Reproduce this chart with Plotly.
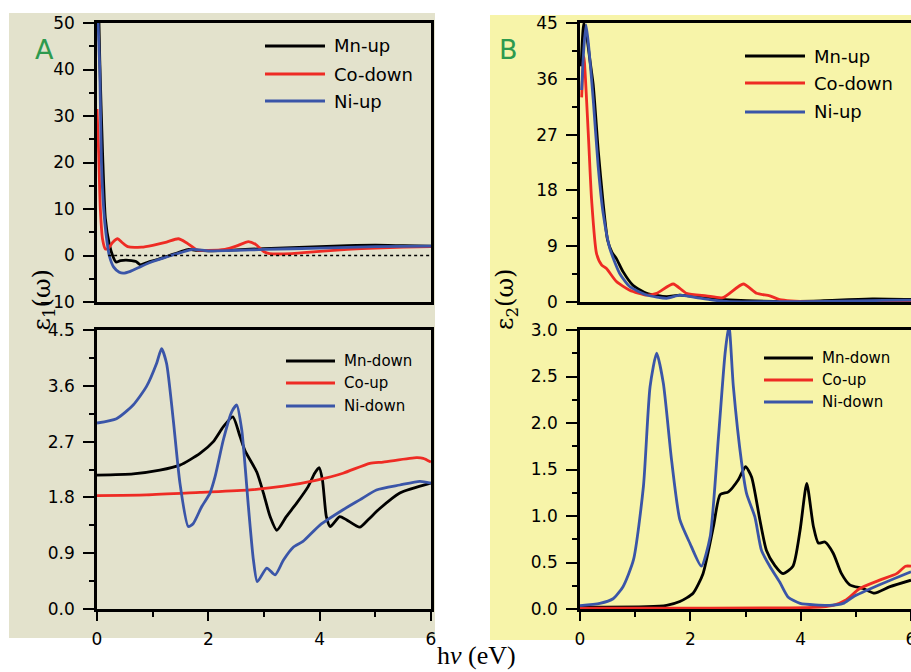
import plotly.graph_objects as go

W, H = 911, 672

# ---------------- data ----------------
# Panel A top: eps1, (Mn-up, Co-down, Ni-up)
a1_mn_x = [0, 0.05, 0.1, 0.15, 0.22, 0.28, 0.34, 0.42, 0.52, 0.62, 0.7, 0.78, 0.9, 1.1, 1.3, 1.5, 1.65, 1.8, 2.0, 2.5, 3.0, 3.5, 4.0, 4.5, 5.0, 5.5, 6.0]
a1_mn_y = [70, 42, 22, 8, 2.5, 0, -1.4, -1.1, -1.0, -1.1, -1.3, -2.0, -1.5, -0.8, 0.0, 0.8, 1.3, 1.1, 1.0, 1.2, 1.5, 1.7, 1.9, 2.1, 2.2, 2.1, 2.0]
a1_co_x = [0, 0.03, 0.06, 0.1, 0.15, 0.2, 0.28, 0.37, 0.45, 0.55, 0.8, 1.0, 1.25, 1.46, 1.6, 1.8, 2.0, 2.3, 2.5, 2.72, 2.85, 3.0, 3.1, 3.5, 4.0, 4.5, 5.0, 5.5, 6.0]
a1_co_y = [31.5, 22, 10, 3.5, 1.4, 1.5, 2.8, 3.6, 2.8, 1.9, 1.8, 2.2, 2.9, 3.6, 2.8, 1.2, 1.1, 1.3, 2.0, 3.0, 2.4, 0.8, 0.4, 0.4, 0.9, 1.3, 1.6, 1.8, 1.9]
a1_ni_x = [0, 0.02, 0.05, 0.08, 0.12, 0.16, 0.22, 0.3, 0.4, 0.47, 0.6, 0.8, 1.0, 1.2, 1.5, 1.72, 2.0, 2.5, 3.0, 4.0, 5.0, 6.0]
a1_ni_y = [62, 50, 40, 20, 10, 4.8, 0, -2.5, -3.6, -3.8, -3.4, -2.3, -1.3, -0.5, 0.6, 1.3, 1.0, 1.1, 1.3, 1.6, 1.9, 2.0]

# Panel A bottom: eps1, (Mn-down, Co-up, Ni-down)
a2_mn_x = [0, 0.65, 1.13, 1.49, 1.85, 2.09, 2.27, 2.44, 2.57, 2.66, 2.87, 2.99, 3.11, 3.23, 3.4, 3.58, 3.79, 3.91, 3.99, 4.05, 4.12, 4.19, 4.36, 4.48, 4.72, 4.87, 5.08, 5.44, 6.0]
a2_mn_y = [2.16, 2.18, 2.24, 2.32, 2.51, 2.70, 2.94, 3.10, 2.78, 2.55, 2.21, 1.87, 1.49, 1.27, 1.49, 1.70, 1.97, 2.19, 2.28, 2.08, 1.49, 1.33, 1.49, 1.44, 1.32, 1.44, 1.62, 1.87, 2.03]
a2_co_x = [0, 0.89, 1.85, 2.75, 3.35, 3.95, 4.42, 4.9, 5.14, 5.74, 5.86, 6.0]
a2_co_y = [1.83, 1.84, 1.88, 1.92, 1.98, 2.08, 2.19, 2.35, 2.37, 2.44, 2.43, 2.37]
a2_ni_x = [0, 0.35, 0.65, 0.89, 1.07, 1.16, 1.25, 1.37, 1.49, 1.64, 1.73, 1.88, 2.03, 2.12, 2.27, 2.42, 2.51, 2.6, 2.72, 2.81, 2.88, 3.05, 3.2, 3.35, 3.53, 3.7, 4.0, 4.42, 4.72, 5.02, 5.44, 5.8, 6.0]
a2_ni_y = [3.00, 3.07, 3.29, 3.59, 3.96, 4.20, 3.96, 3.05, 2.03, 1.33, 1.38, 1.65, 1.87, 2.13, 2.73, 3.18, 3.29, 2.89, 1.65, 0.79, 0.44, 0.66, 0.55, 0.79, 1.00, 1.09, 1.35, 1.60, 1.76, 1.92, 2.00, 2.06, 2.03]

# Panel B top: eps2, (Mn-up, Co-down, Ni-up)
b1_mn_x = [0.02, 0.07, 0.12, 0.18, 0.24, 0.33, 0.42, 0.5, 0.58, 0.66, 0.78, 0.96, 1.21, 1.57, 1.81, 2.41, 3.02, 4.23, 5.3, 6.0]
b1_mn_y = [38, 45, 43, 39, 35, 24.5, 15.9, 10.0, 8.0, 7.0, 4.9, 2.7, 1.4, 0.86, 1.1, 0.5, 0.2, 0.15, 0.5, 0.4]
b1_co_x = [0.03, 0.07, 0.15, 0.21, 0.3, 0.39, 0.48, 0.66, 0.9, 1.21, 1.39, 1.69, 1.93, 2.29, 2.59, 2.96, 3.2, 3.44, 3.62, 4.2, 5.0, 6.0]
b1_co_y = [33, 39.6, 27.2, 16.5, 7.8, 6.0, 5.4, 3.3, 1.9, 1.1, 1.4, 2.9, 1.4, 1.0, 0.7, 2.9, 1.4, 1.0, 0.4, 0.05, 0.05, 0.05]
b1_ni_x = [0.03, 0.07, 0.11, 0.16, 0.24, 0.33, 0.42, 0.54, 0.72, 0.9, 1.21, 1.57, 1.81, 2.11, 2.41, 2.71, 3.5, 4.5, 5.5, 6.0]
b1_ni_y = [34.2, 41, 44.7, 41, 32.6, 21.8, 14.3, 8.66, 4.6, 2.5, 1.13, 0.6, 1.1, 0.7, 0.3, 0.05, 0.05, 0.1, 0.25, 0.3]

# Panel B bottom: eps2, (Mn-down, Co-up, Ni-down)
b2_mn_x = [0, 1.21, 1.57, 1.81, 2.05, 2.23, 2.42, 2.54, 2.69, 2.87, 3.0, 3.11, 3.26, 3.38, 3.53, 3.68, 3.86, 3.99, 4.11, 4.23, 4.32, 4.44, 4.59, 4.74, 4.89, 5.13, 5.34, 5.62, 6.0]
b2_mn_y = [0.02, 0.025, 0.04, 0.08, 0.17, 0.38, 0.89, 1.23, 1.26, 1.39, 1.53, 1.42, 0.96, 0.63, 0.47, 0.38, 0.46, 0.85, 1.35, 0.89, 0.71, 0.72, 0.60, 0.38, 0.26, 0.22, 0.17, 0.24, 0.31]
b2_co_x = [0, 2.0, 4.23, 4.59, 4.83, 5.07, 5.43, 5.74, 5.9, 6.0]
b2_co_y = [0.01, 0.01, 0.018, 0.04, 0.10, 0.22, 0.31, 0.38, 0.46, 0.46]
b2_ni_x = [0, 0.36, 0.6, 0.78, 0.97, 1.15, 1.27, 1.39, 1.51, 1.66, 1.81, 1.99, 2.2, 2.36, 2.51, 2.63, 2.7, 2.78, 2.93, 3.02, 3.17, 3.29, 3.44, 3.62, 3.77, 3.99, 4.53, 4.77, 4.95, 5.43, 6.0]
b2_ni_y = [0.036, 0.06, 0.11, 0.24, 0.53, 1.32, 2.39, 2.75, 2.43, 1.60, 0.96, 0.71, 0.46, 0.78, 1.85, 2.75, 3.05, 2.39, 1.57, 1.24, 0.99, 0.63, 0.46, 0.29, 0.13, 0.06, 0.04, 0.06, 0.13, 0.26, 0.40]

up_names = ["Mn-up", "Co-down", "Ni-up"]
down_names = ["Mn-down", "Co-up", "Ni-down"]
colors = ["#000000", "#ee2b24", "#3a55a8"]

# ---------------- layout helpers ----------------
def px_x(p):
    return p / W

def px_y(p):
    return 1 - p / H

A_dom = [px_x(97), px_x(431)]
B_dom = [px_x(580), 1.0]
top_dom = [px_y(302), px_y(23)]
bot_dom = [px_y(609), px_y(330)]

fig = go.Figure()

panels = [
    ("x", "y", [(a1_mn_x, a1_mn_y), (a1_co_x, a1_co_y), (a1_ni_x, a1_ni_y)]),
    ("x2", "y2", [(a2_mn_x, a2_mn_y), (a2_co_x, a2_co_y), (a2_ni_x, a2_ni_y)]),
    ("x3", "y3", [(b1_mn_x, b1_mn_y), (b1_co_x, b1_co_y), (b1_ni_x, b1_ni_y)]),
    ("x4", "y4", [(b2_mn_x, b2_mn_y), (b2_co_x, b2_co_y), (b2_ni_x, b2_ni_y)]),
]
for xa, ya, series in panels:
    for i, (xs, ys) in enumerate(series):
        fig.add_trace(go.Scatter(x=xs, y=ys, xaxis=xa, yaxis=ya, mode="lines",
                                 line=dict(color=colors[i], width=2.8, shape="spline", smoothing=0.6),
                                 showlegend=False, hoverinfo="skip"))

tickfont = dict(family="DejaVu Sans", size=17, color="black")

def yax(dom, rng, dtick, mdtick, anchor, fmt=None, mirror=True):
    d = dict(domain=dom, range=rng, anchor=anchor, automargin=False, dtick=dtick, tick0=0,
             ticks="outside", ticklen=11, tickwidth=2,
             tickcolor="black", showline=True, linecolor="black", linewidth=2.5, mirror=mirror,
             showgrid=False, zeroline=False, tickfont=tickfont, ticklabelstandoff=5,
             minor=dict(dtick=mdtick, tick0=0, ticks="outside", ticklen=5, tickwidth=2, tickcolor="black", showgrid=False))
    if fmt:
        d["tickformat"] = fmt
    return d

def xax(dom, anchor, labels, mirror=True):
    d = dict(domain=dom, range=[0, 6], anchor=anchor, automargin=False, showline=True, linecolor="black",
             linewidth=2.5, mirror=mirror, showgrid=False, zeroline=False, tickfont=tickfont)
    if labels:
        d.update(dtick=2, tick0=0, ticks="outside", ticklen=9, tickwidth=2, tickcolor="black",
                 ticklabelstandoff=4, ticklabeloverflow="allow",
                 minor=dict(dtick=1, tick0=0, ticks="outside", ticklen=5, tickwidth=2, tickcolor="black", showgrid=False))
    else:
        d.update(showticklabels=False, ticks="")
    return d

fig.update_layout(
    width=W, height=H, margin=dict(l=0, r=0, t=0, b=0, autoexpand=False),
    paper_bgcolor="white", plot_bgcolor="rgba(0,0,0,0)",
    xaxis=xax(A_dom, "y", False),
    yaxis=yax(top_dom, [-10, 50], 10, 5, "x"),
    xaxis2=xax(A_dom, "y2", True),
    yaxis2=yax(bot_dom, [0, 4.5], 0.9, 0.45, "x2", ".1f"),
    xaxis3=xax(B_dom, "y3", False),
    yaxis3=yax(top_dom, [0, 45], 9, 4.5, "x3", mirror=False),
    xaxis4=xax(B_dom, "y4", True),
    yaxis4=yax(bot_dom, [0, 3.0], 0.5, 0.25, "x4", ".1f", mirror=False),
)

shapes = [
    dict(type="rect", xref="paper", yref="paper", x0=px_x(9), x1=px_x(435), y0=px_y(638), y1=px_y(13),
         fillcolor="#e3e2cc", line=dict(width=0), layer="below"),
    dict(type="rect", xref="paper", yref="paper", x0=px_x(490), x1=1.0, y0=px_y(640), y1=px_y(15),
         fillcolor="#f7f4a9", line=dict(width=0), layer="below"),
    dict(type="line", xref="x", yref="y", x0=0.2, x1=6, y0=0, y1=0,
         line=dict(color="black", width=1.6, dash="dot")),
]

annotations = []

def legend(names, x_line0, x_line1, ys, size):
    for i, (n, yy) in enumerate(zip(names, ys)):
        shapes.append(dict(type="line", xref="paper", yref="paper", x0=px_x(x_line0), x1=px_x(x_line1),
                           y0=px_y(yy), y1=px_y(yy), line=dict(color=colors[i], width=2.8)))
        annotations.append(dict(xref="paper", yref="paper", x=px_x(x_line1 + 7), y=px_y(yy), text=n,
                                showarrow=False, xanchor="left", yanchor="middle",
                                font=dict(family="DejaVu Sans", size=size, color="black")))

legend(up_names, 265, 325, [46, 74, 101], 18)
legend(down_names, 286, 335, [361, 383, 406], 15)
legend(up_names, 745, 805, [56, 83, 112], 18)
legend(down_names, 764, 813, [358, 380, 402], 15)

annotations += [
    dict(xref="paper", yref="paper", x=px_x(33), y=px_y(32), text="A", showarrow=False,
         font=dict(family="DejaVu Sans", size=27, color="#2d9a4e")),
    dict(xref="paper", yref="paper", x=px_x(508), y=px_y(32), text="B", showarrow=False,
         font=dict(family="DejaVu Sans", size=27, color="#2d9a4e")),
    dict(xref="paper", yref="paper", x=px_x(25), y=px_y(300), text="ε<sub>1</sub>(ω)", showarrow=False,
         textangle=-90, font=dict(family="DejaVu Serif", size=24, color="black")),
    dict(xref="paper", yref="paper", x=px_x(506), y=px_y(300), text="ε<sub>2</sub>(ω)", showarrow=False,
         textangle=-90, font=dict(family="DejaVu Serif", size=24, color="black")),
    dict(xref="paper", yref="paper", x=px_x(476), y=0, text="h<i>ν</i> (eV)", showarrow=False,
         xanchor="center", yanchor="bottom", yshift=0,
         font=dict(family="Liberation Serif", size=26, color="black")),
]

fig.update_layout(shapes=shapes, annotations=annotations)
fig.write_html("out.html")
